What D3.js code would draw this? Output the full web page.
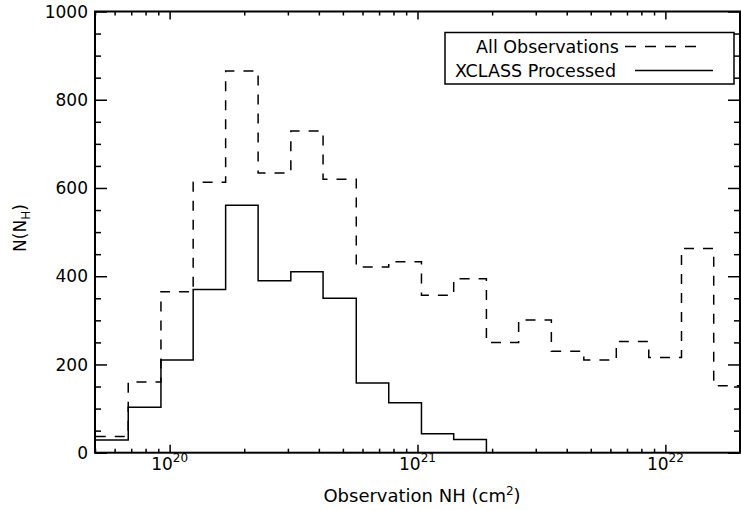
<!DOCTYPE html>
<html>
<head>
<meta charset="utf-8">
<script src="https://cdn.jsdelivr.net/npm/d3@7"></script>
<style>
body { margin: 0; background: #fff; }
text { font-family: "DejaVu Sans", sans-serif; fill: #000; }
.tick line { stroke: #000; stroke-width: 1.5; }
</style>
</head>
<body>
<svg width="741" height="510"></svg>
<script>
// bin edges in log10(NH)
var binEdges = [19.702, 19.833, 19.965, 20.095, 20.226, 20.357, 20.489, 20.619, 20.753, 20.884,
                21.016, 21.146, 21.278, 21.408, 21.540, 21.671, 21.802, 21.933, 22.065, 22.195, 22.326];
var allObs = [37, 160, 365, 613, 865, 634, 729, 620, 421, 433, 357, 394, 250, 301, 230, 210, 252, 216, 463, 152];
var xclass = [29, 103, 210, 370, 561, 390, 410, 350, 158, 113, 43, 30, 0, 0, 0, 0, 0, 0, 0, 0];
var xMajor = [20, 21, 22];
var yMajor = [0, 200, 400, 600, 800, 1000];
var legendLabels = ["All Observations", "XCLASS Processed"];

var svg = d3.select("svg");
var pLeft = 95, pRight = 740, pTop = 11.5, pBottom = 452.7;

var x = d3.scaleLog().domain([5e19, 2e22]).range([pLeft, pRight]);
var y = d3.scaleLinear().domain([0, 1000]).range([pBottom, pTop]);

var xMinor = x.ticks().filter(function(d) { return xMajor.indexOf(Math.round(Math.log10(d) * 1000) / 1000) < 0; });
var yMinor = y.ticks(20).filter(function(d) { return yMajor.indexOf(d) < 0; });
var xMajorVals = xMajor.map(function(e) { return Math.pow(10, e); });

svg.append("clipPath").attr("id", "plotclip")
  .append("rect").attr("x", pLeft).attr("y", pTop).attr("width", pRight - pLeft).attr("height", pBottom - pTop);

// axes: ticks only, frame drawn separately
function axisG(axis, tx, ty) {
  var g = svg.append("g").attr("transform", "translate(" + tx + "," + ty + ")").call(axis);
  g.select(".domain").remove();
  return g;
}
axisG(d3.axisBottom(x).tickValues(xMinor).tickSize(-4).tickFormat(""), 0, pBottom);
axisG(d3.axisBottom(x).tickValues(xMajorVals).tickSize(-8).tickFormat(""), 0, pBottom);
axisG(d3.axisTop(x).tickValues(xMinor).tickSize(-4).tickFormat(""), 0, pTop);
axisG(d3.axisTop(x).tickValues(xMajorVals).tickSize(-8).tickFormat(""), 0, pTop);
axisG(d3.axisLeft(y).tickValues(yMinor).tickSize(-6).tickFormat(""), pLeft, 0);
axisG(d3.axisLeft(y).tickValues(yMajor).tickSize(-12).tickFormat(""), pLeft, 0);
axisG(d3.axisRight(y).tickValues(yMinor).tickSize(-6).tickFormat(""), pRight, 0);
axisG(d3.axisRight(y).tickValues(yMajor).tickSize(-12).tickFormat(""), pRight, 0);

// y tick labels
svg.append("g").selectAll("text").data(yMajor).enter().append("text")
  .attr("x", 88).attr("y", function(d) { return y(d); }).attr("dy", "0.36em")
  .attr("text-anchor", "end").style("font-size", "17px")
  .text(function(d) { return d; });

// x tick labels 10^n
var xl = svg.append("g").selectAll("text").data(xMajor).enter().append("text")
  .attr("x", function(d) { return x(Math.pow(10, d)); }).attr("y", 470)
  .attr("text-anchor", "middle").style("font-size", "17px");
xl.append("tspan").text("10");
xl.append("tspan").attr("dy", -8).style("font-size", "12px").text(function(d) { return d; });

// histograms
function stepPoints(vals) {
  var pts = vals.map(function(v, i) { return [x(Math.pow(10, binEdges[i])), y(v)]; });
  pts.push([x(Math.pow(10, binEdges[vals.length])), y(vals[vals.length - 1])]);
  return pts;
}
var line = d3.line().curve(d3.curveStepAfter);
var plot = svg.append("g").attr("clip-path", "url(#plotclip)");
plot.append("path").attr("d", line(stepPoints(allObs)))
  .attr("fill", "none").attr("stroke", "#000").attr("stroke-width", 1.5).attr("stroke-dasharray", "10,9");
plot.append("path").attr("d", line(stepPoints(xclass)))
  .attr("fill", "none").attr("stroke", "#000").attr("stroke-width", 1.5);

// frame
svg.append("rect").attr("x", pLeft).attr("y", pTop).attr("width", pRight - pLeft).attr("height", pBottom - pTop)
  .attr("fill", "none").attr("stroke", "#000").attr("stroke-width", 2);

// axis titles
var xt = svg.append("text").attr("x", 422).attr("y", 502).attr("text-anchor", "middle").style("font-size", "18px");
xt.append("tspan").text("Observation NH (cm");
xt.append("tspan").attr("dy", -7).style("font-size", "12px").text("2");
xt.append("tspan").attr("dy", 7).text(")");

var yt = svg.append("text").attr("transform", "translate(26,228) rotate(-90)")
  .attr("text-anchor", "middle").style("font-size", "17px");
yt.append("tspan").text("N(N");
yt.append("tspan").attr("dy", 4).style("font-size", "12px").text("H");
yt.append("tspan").attr("dy", -4).text(")");

// legend
var lg = svg.append("g");
lg.append("rect").attr("x", 445).attr("y", 32.5).attr("width", 289).attr("height", 51.5)
  .attr("fill", "#fff").attr("stroke", "#000").attr("stroke-width", 1.5);
lg.append("text").attr("x", 619).attr("y", 52.5).attr("text-anchor", "end").style("font-size", "17.5px").text(legendLabels[0]);
lg.append("text").attr("x", 616).attr("y", 76.5).attr("text-anchor", "end").style("font-size", "17.5px").text(legendLabels[1]);
lg.append("line").attr("x1", 625).attr("x2", 705).attr("y1", 46.5).attr("y2", 46.5)
  .attr("stroke", "#000").attr("stroke-width", 1.5).attr("stroke-dasharray", "11,9");
lg.append("line").attr("x1", 635).attr("x2", 713).attr("y1", 70.5).attr("y2", 70.5)
  .attr("stroke", "#000").attr("stroke-width", 1.5);
</script>
</body>
</html>
